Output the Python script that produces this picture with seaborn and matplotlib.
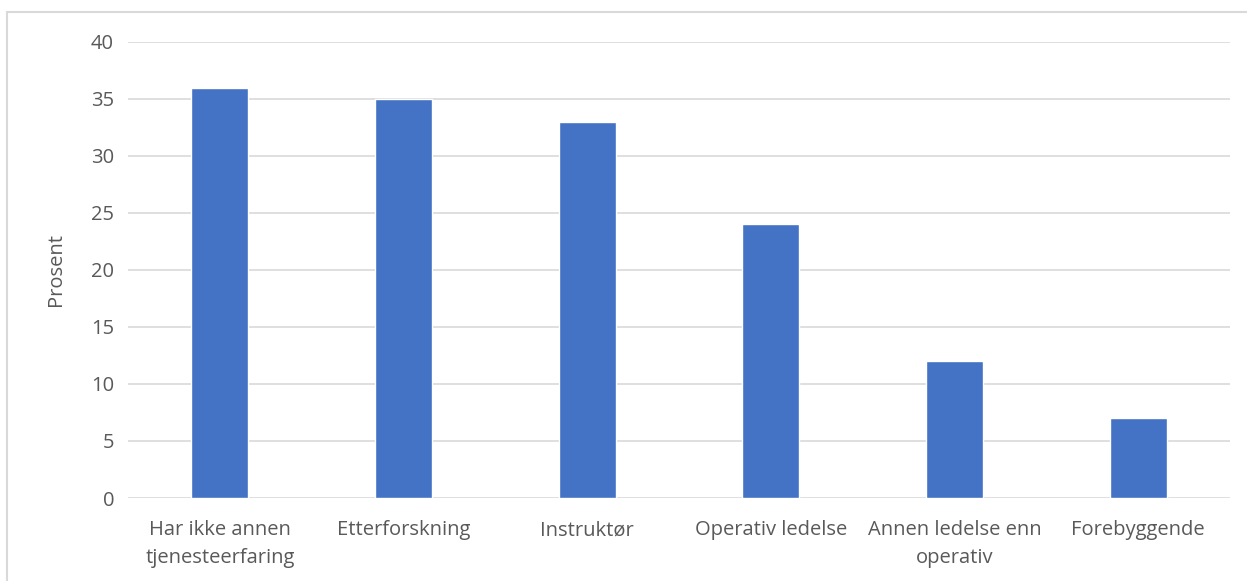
import matplotlib
matplotlib.use("Agg")
import matplotlib.pyplot as plt
import seaborn as sns
import pandas as pd
from matplotlib.patches import Rectangle

categories = ["Har ikke annen\ntjenesteerfaring", "Etterforskning", "Instruktør",
              "Operativ ledelse", "Annen ledelse enn\noperativ", "Forebyggende"]
values = [36, 35, 33, 24, 12, 7]
yticks = [0, 5, 10, 15, 20, 25, 30, 35, 40]

sns.set_theme(style="white")
plt.rcParams['font.family'] = ['Open Sans', 'DejaVu Sans']

df = pd.DataFrame({"cat": categories, "val": values})

fig = plt.figure(figsize=(12.47, 5.81), dpi=100)
ax = fig.add_axes([128/1247, 1-498/581, (1230-128)/1247, (498-42)/581])

sns.barplot(data=df, x="cat", y="val", color="#4472C4", width=0.31, ax=ax,
            saturation=1, zorder=3)

ax.set_ylim(0, 40)
ax.set_xlim(-0.5, 5.5)
ax.set_yticks(yticks)
ax.yaxis.grid(True, color="#d9d9d9", linewidth=1.2, zorder=0)
ax.set_axisbelow(True)
for s in ax.spines.values():
    s.set_visible(False)
ax.tick_params(axis="both", length=0, labelsize=14.5, colors="#595959", pad=10)
ax.tick_params(axis="x", pad=16)
for lbl in ax.get_xticklabels():
    lbl.set_linespacing(1.5)
ax.set_xlabel("")
ax.set_ylabel("Prosent", fontsize=14.5, color="#595959", labelpad=18)

fig.patches.append(Rectangle((7/1247, -0.1), 1.2, 1.1 - 12/581,
                             transform=fig.transFigure, fill=False,
                             edgecolor="#d9d9d9", linewidth=1.5, zorder=0))

fig.savefig("out.png", dpi=100)
